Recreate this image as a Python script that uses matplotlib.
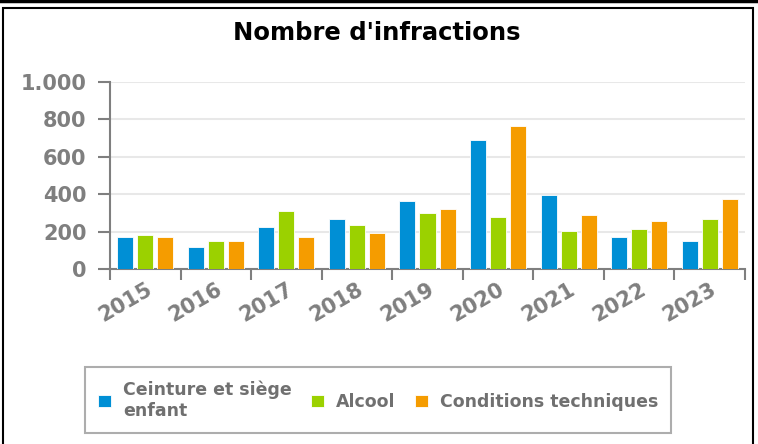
import numpy as np
import matplotlib.pyplot as plt
from matplotlib.ticker import FuncFormatter
from matplotlib.patches import Rectangle
from matplotlib.lines import Line2D

years = ["2015", "2016", "2017", "2018", "2019", "2020", "2021", "2022", "2023"]
ceinture = [170, 116, 223, 266, 364, 688, 397, 170, 148]
alcool = [180, 148, 309, 234, 298, 277, 202, 213, 266]
conditions = [170, 148, 170, 191, 320, 765, 288, 256, 374]
series_names = ["Ceinture et siège\nenfant", "Alcool", "Conditions techniques"]
colors = ["#008fd5", "#9bd100", "#f59c00"]

W, H = 758, 444
fig = plt.figure(figsize=(W / 100, H / 100), dpi=100)
ax = fig.add_axes([110 / W, 1 - 269 / H, (745 - 110) / W, (269 - 82) / H])

gray = "#7f7f7f"
x = np.arange(len(years))
bw = 0.227
pitch = 0.284
for j, vals in enumerate([ceinture, alcool, conditions]):
    ax.bar(x + (j - 1) * pitch, vals, width=bw, color=colors[j],
           edgecolor="white", linewidth=0.6, zorder=3, label=series_names[j])

ax.set_xlim(-0.5, len(years) - 0.5)
ax.set_ylim(0, 1000)
ax.set_yticks(range(0, 1001, 200))
ax.yaxis.set_major_formatter(FuncFormatter(lambda v, p: f"{int(v):,}".replace(",", ".")))
ax.grid(axis="y", color="#e8e8e8", linewidth=1.5, zorder=0)

# boundaries as major ticks, labels on the minor ticks
ax.set_xticks(np.arange(-0.5, len(years), 1.0))
ax.set_xticklabels([])
ax.set_xticks(x, minor=True)
ax.set_xticklabels(years, minor=True, rotation=30, ha="right", rotation_mode="anchor")
ax.tick_params(axis="x", which="major", length=8, width=1.5, color=gray, direction="out")
ax.tick_params(axis="x", which="minor", length=0, pad=7, labelsize=15, labelcolor=gray)
ax.tick_params(axis="y", length=9, width=1.5, color=gray, labelsize=15, labelcolor=gray, pad=8)
for lab in ax.get_xticklabels(minor=True) + ax.get_yticklabels():
    lab.set_fontweight("bold")

for s in ["top", "right"]:
    ax.spines[s].set_visible(False)
for s in ["left", "bottom"]:
    ax.spines[s].set_color(gray)
    ax.spines[s].set_linewidth(1.5)

fig.text(377 / W, 1 - 33 / H, "Nombre d'infractions", ha="center", va="center",
         fontsize=17.5, fontweight="bold", color="black")

leg = fig.legend(loc="center", bbox_to_anchor=(378 / W, 1 - 400 / H), ncol=3,
                 frameon=True, fancybox=False, edgecolor="#999999",
                 prop={"weight": "bold", "size": 12.5}, labelcolor="#707070",
                 handlelength=0.75, handleheight=0.75, handletextpad=0.7,
                 columnspacing=1.1, borderpad=0.75)
leg.get_frame().set_linewidth(1.5)

# outer frame
fig.add_artist(Line2D([0, 1], [1 - 1.5 / H, 1 - 1.5 / H], color="black", linewidth=2.5,
                      transform=fig.transFigure))
fig.add_artist(Rectangle((3 / W, -0.05), (753 - 3) / W, 1.05 - 8 / H, fill=False,
                         edgecolor="black", linewidth=1.5, transform=fig.transFigure))

fig.savefig("out.png", dpi=100)
